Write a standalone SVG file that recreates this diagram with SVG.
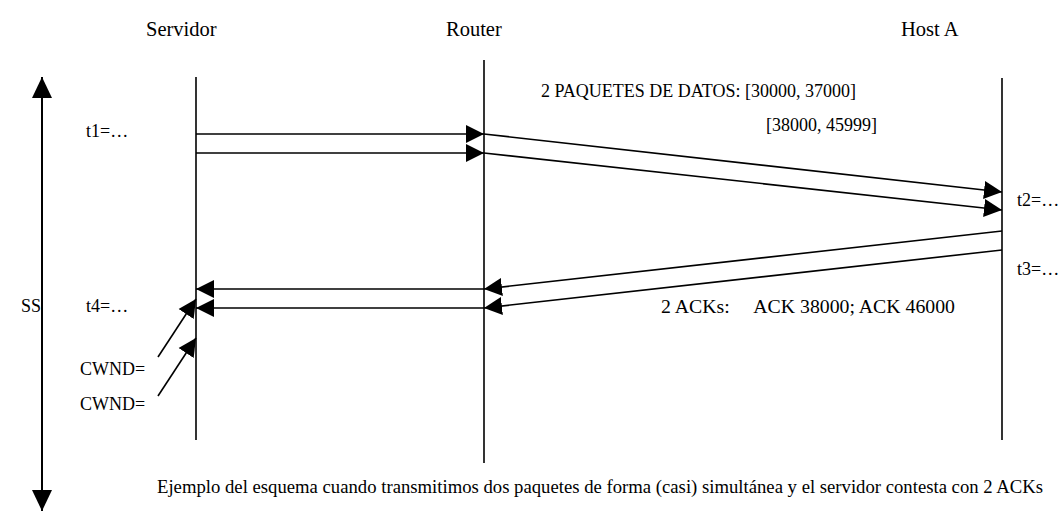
<svg xmlns="http://www.w3.org/2000/svg" width="1063" height="513" viewBox="0 0 1063 513">
<style>
text{font-family:"Liberation Serif","Times New Roman",serif;fill:#000}
.h{font-size:20.5px}
.l{font-size:18px}
.ln{stroke:#000;stroke-width:1.6;fill:none}
.ar{stroke:#000;stroke-width:1.6;fill:none;marker-end:url(#ah)}
</style>
<defs>
<marker id="ah" markerUnits="userSpaceOnUse" markerWidth="20" markerHeight="20" viewBox="0 0 20 20" refX="18" refY="10" orient="auto">
<path d="M0,1 L18,10 L0,19 Z" fill="#000"/>
</marker>
<marker id="big" markerUnits="userSpaceOnUse" markerWidth="22" markerHeight="22" viewBox="0 0 22 22" refX="21" refY="11" orient="auto-start-reverse">
<path d="M0,1 L21,11 L0,21 Z" fill="#000"/>
</marker>
</defs>
<rect width="1063" height="513" fill="#fff"/>
<g id="servidor">
<text class="h" x="146" y="36">Servidor</text>
<line class="ln" x1="196" y1="77" x2="196" y2="440"/>
</g>
<g id="router">
<text class="h" x="446" y="36">Router</text>
<line class="ln" x1="484" y1="60" x2="484" y2="463"/>
</g>
<g id="hostA">
<text class="h" x="901" y="36">Host A</text>
<line class="ln" x1="1002" y1="78" x2="1002" y2="440"/>
</g>
<g id="time-axis">
<line class="ln" x1="42" y1="77" x2="42" y2="511" marker-start="url(#big)" marker-end="url(#big)" style="stroke-width:2"/>
<text class="l" x="21" y="312">SS</text>
</g>
<g id="labels">
<text class="l" x="86" y="137">t1=…</text>
<text class="l" x="1017" y="206">t2=…</text>
<text class="l" x="1017" y="275">t3=…</text>
<text class="l" x="86" y="312">t4=…</text>
<text class="l" x="541" y="97">2 PAQUETES DE DATOS: [30000, 37000]</text>
<text class="l" x="766" y="131">[38000, 45999]</text>
<text class="l" x="661" y="313" xml:space="preserve" textLength="294" lengthAdjust="spacingAndGlyphs">2 ACKs:     ACK 38000; ACK 46000</text>
<text class="l" x="80" y="375">CWND=</text>
<text class="l" x="80" y="410">CWND=</text>
<text class="l" x="157" y="493" textLength="886" lengthAdjust="spacingAndGlyphs">Ejemplo del esquema cuando transmitimos dos paquetes de forma (casi) simultánea y el servidor contesta con 2 ACKs</text>
</g>
<g id="connectors">
<line class="ar" x1="196" y1="134" x2="484" y2="134"/>
<line class="ar" x1="196" y1="153" x2="484" y2="153"/>
<line class="ar" x1="484" y1="134" x2="1002" y2="192"/>
<line class="ar" x1="484" y1="153" x2="1002" y2="210"/>
<line class="ar" x1="1002" y1="231" x2="484" y2="289"/>
<line class="ar" x1="1002" y1="250" x2="484" y2="308"/>
<line class="ar" x1="484" y1="289" x2="196" y2="289"/>
<line class="ar" x1="484" y1="308" x2="196" y2="308"/>
<line class="ar" x1="158" y1="357" x2="196" y2="299"/>
<line class="ar" x1="158" y1="396" x2="196" y2="338"/>
</g>
</svg>
